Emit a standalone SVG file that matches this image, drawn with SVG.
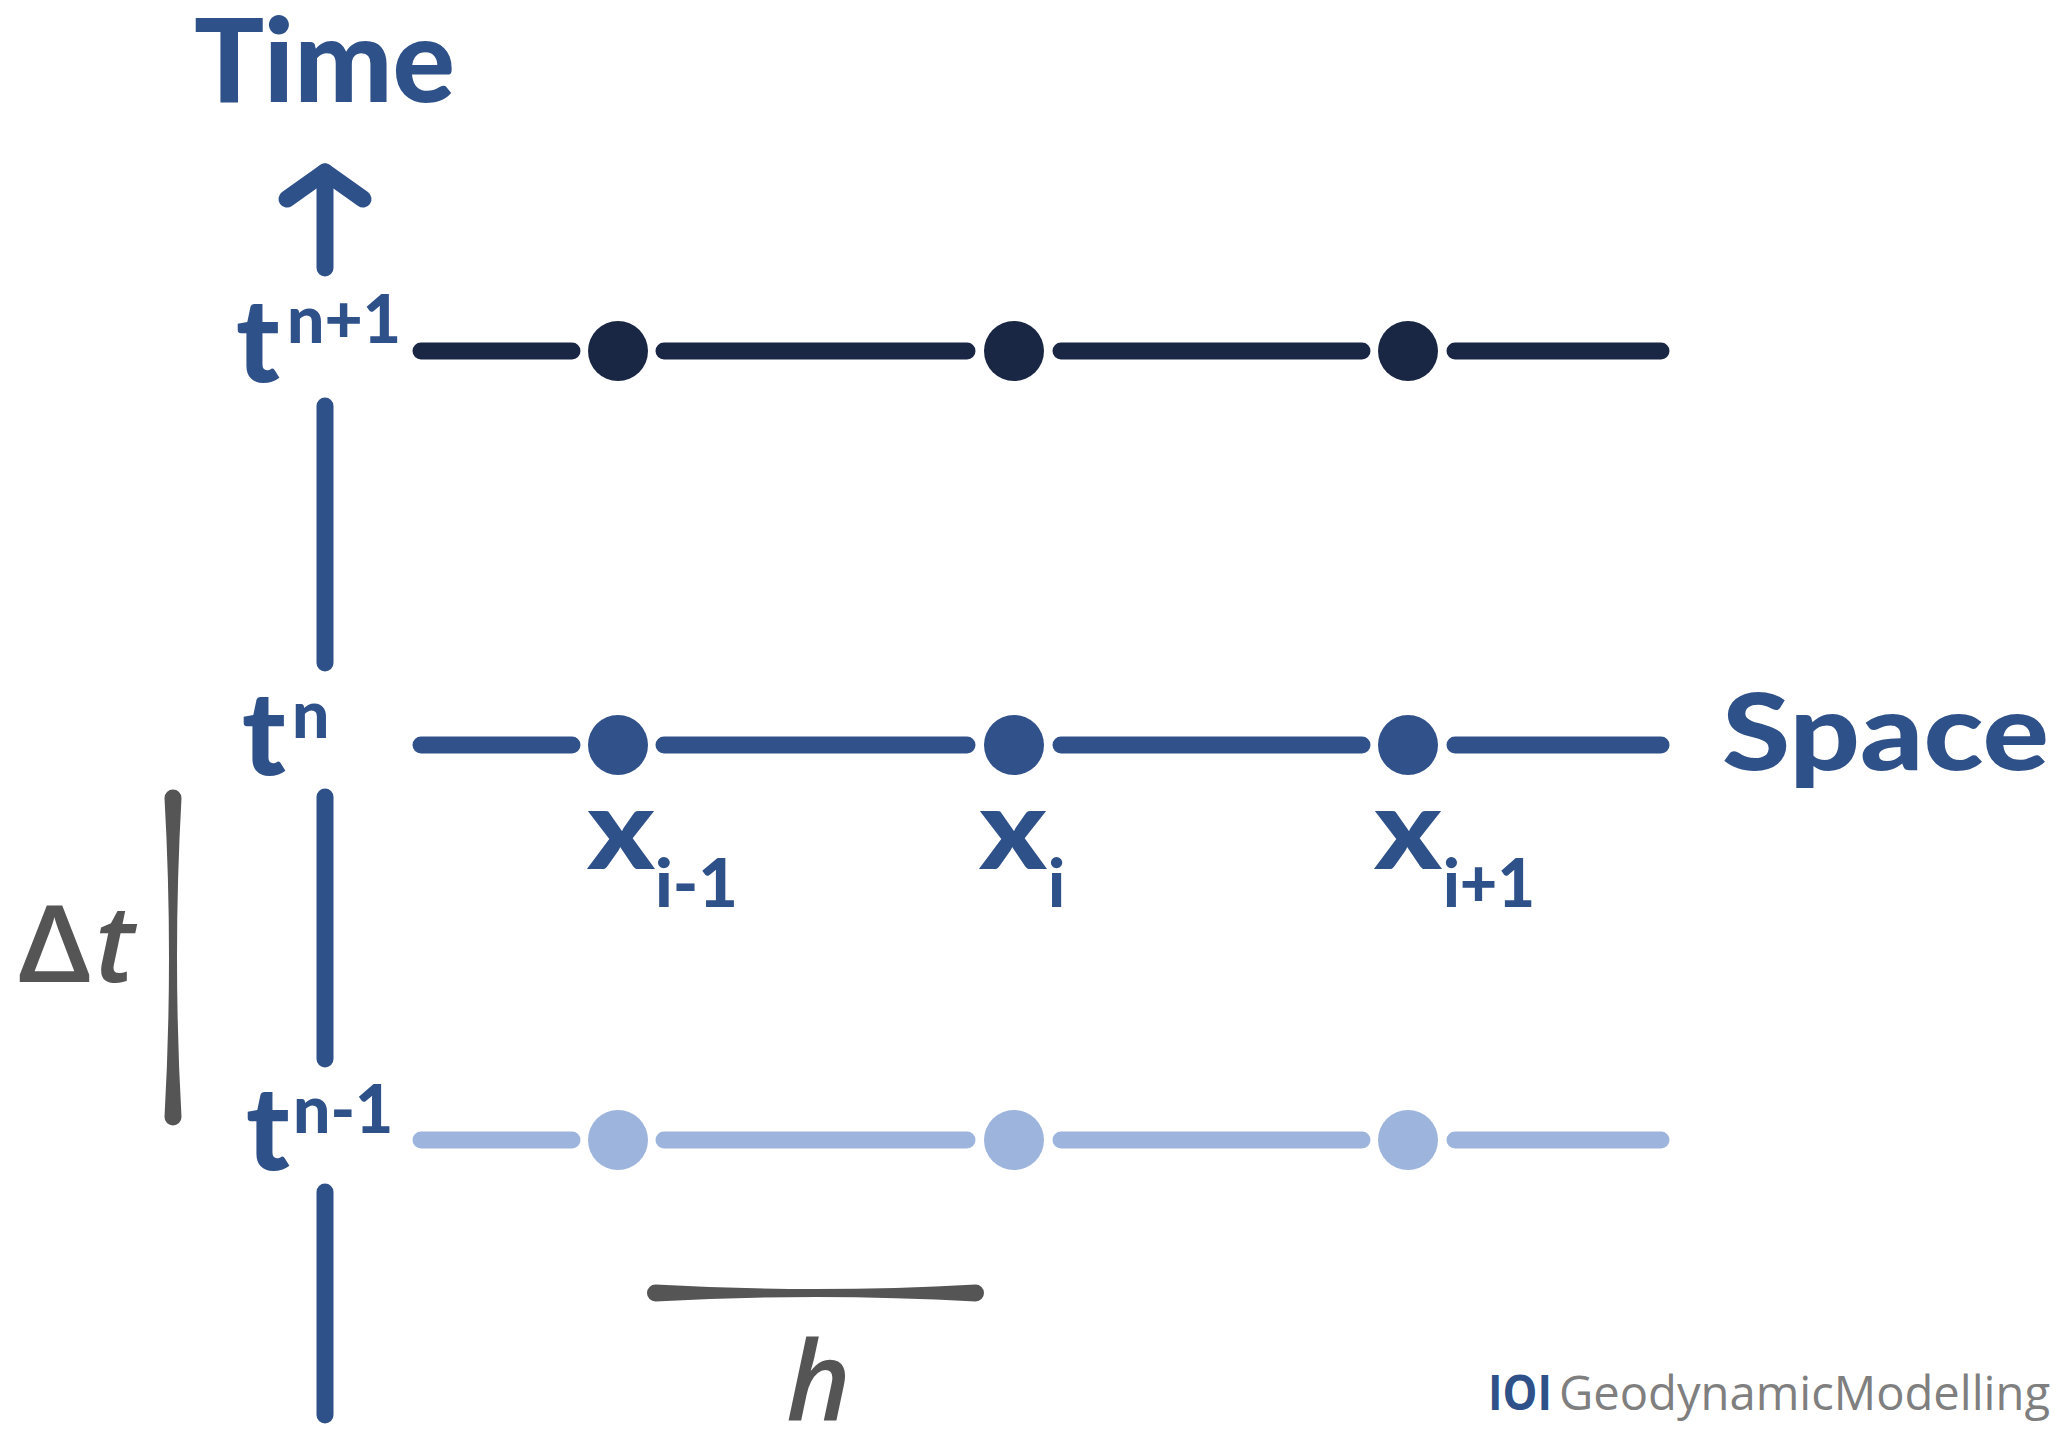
<svg xmlns="http://www.w3.org/2000/svg" width="2067" height="1447" viewBox="0 0 2067 1447">
<style>
.lbl{font-family:Lato,"Liberation Sans",sans-serif;font-weight:900;fill:#2f5189}
.gray{font-family:"Open Sans","Liberation Sans",sans-serif;fill:#555555}
.ax{stroke:#2f5189;stroke-width:17;stroke-linecap:round;fill:none}
.r1{stroke:#1a2744;stroke-width:17;stroke-linecap:round}
.r2{stroke:#30518a;stroke-width:17;stroke-linecap:round}
.r3{stroke:#9db4dc;stroke-width:17;stroke-linecap:round}
</style>
<rect width="2067" height="1447" fill="#ffffff"/>
<g id="axis-time">
  <polyline class="ax" points="287,199 325,172 363,199" stroke-linejoin="round"/>
  <line class="ax" x1="325" y1="172" x2="325" y2="268"/>
  <line class="ax" x1="325" y1="406" x2="325" y2="663"/>
  <line class="ax" x1="325" y1="797" x2="325" y2="1059"/>
  <line class="ax" x1="325" y1="1192" x2="325" y2="1415"/>
  <text class="lbl" x="194" y="102" font-size="116" textLength="261" lengthAdjust="spacingAndGlyphs">Time</text>
</g>
<g id="connectors">
  <line class="r1" x1="421" y1="351" x2="572" y2="351"/>
  <line class="r1" x1="664" y1="351" x2="967" y2="351"/>
  <line class="r1" x1="1061" y1="351" x2="1362" y2="351"/>
  <line class="r1" x1="1455" y1="351" x2="1661" y2="351"/>
  <line class="r2" x1="421" y1="745" x2="572" y2="745"/>
  <line class="r2" x1="664" y1="745" x2="967" y2="745"/>
  <line class="r2" x1="1061" y1="745" x2="1362" y2="745"/>
  <line class="r2" x1="1455" y1="745" x2="1661" y2="745"/>
  <line class="r3" x1="421" y1="1140" x2="572" y2="1140"/>
  <line class="r3" x1="664" y1="1140" x2="967" y2="1140"/>
  <line class="r3" x1="1061" y1="1140" x2="1362" y2="1140"/>
  <line class="r3" x1="1455" y1="1140" x2="1661" y2="1140"/>
</g>
<g id="row-n-plus-1">
  <text class="lbl" x="236" y="382" font-size="116">t</text>
  <text class="lbl" x="287" y="343" font-size="66">n+1</text>
  <circle cx="618" cy="351" r="30" fill="#1a2744"/>
  <circle cx="1014" cy="351" r="30" fill="#1a2744"/>
  <circle cx="1408" cy="351" r="30" fill="#1a2744"/>
</g>
<g id="row-n">
  <text class="lbl" x="242" y="775" font-size="116">t</text>
  <text class="lbl" x="292" y="738" font-size="66">n</text>
  <circle cx="618" cy="745" r="30" fill="#30518a"/>
  <circle cx="1014" cy="745" r="30" fill="#30518a"/>
  <circle cx="1408" cy="745" r="30" fill="#30518a"/>
</g>
<g id="row-n-minus-1">
  <text class="lbl" x="246" y="1170" font-size="116">t</text>
  <text class="lbl" x="293" y="1133" font-size="66">n-1</text>
  <circle cx="618" cy="1140" r="30" fill="#9db4dc"/>
  <circle cx="1014" cy="1140" r="30" fill="#9db4dc"/>
  <circle cx="1408" cy="1140" r="30" fill="#9db4dc"/>
</g>
<g id="space-labels">
  <text class="lbl" x="587" y="869" font-size="112" textLength="68" lengthAdjust="spacingAndGlyphs">x</text>
  <text class="lbl" x="655" y="907" font-size="66" textLength="83" lengthAdjust="spacingAndGlyphs">i-1</text>
  <text class="lbl" x="979" y="869" font-size="112" textLength="68" lengthAdjust="spacingAndGlyphs">x</text>
  <text class="lbl" x="1048" y="907" font-size="66">i</text>
  <text class="lbl" x="1374" y="869" font-size="112" textLength="68" lengthAdjust="spacingAndGlyphs">x</text>
  <text class="lbl" x="1443" y="907" font-size="66" textLength="92" lengthAdjust="spacingAndGlyphs">i+1</text>
  <text class="lbl" x="1722" y="770" font-size="107" textLength="327" lengthAdjust="spacingAndGlyphs">Space</text>
</g>
<g id="delta-t">
  <path d="M164.5,798 A8.5,8.5 0 0 1 181.5,798 Q172.5,957.5 181.5,1117 A8.5,8.5 0 0 1 164.5,1117 Q173.5,957.5 164.5,798 Z" fill="#555555"/>
  <text class="gray" x="17" y="982" font-size="107" font-weight="600" textLength="75" lengthAdjust="spacingAndGlyphs">Δ</text>
  <text class="gray" x="95" y="982" font-size="107" font-weight="600" font-style="italic">t</text>
</g>
<g id="h-spacing">
  <path d="M655.5,1284.5 A8.5,8.5 0 0 0 655.5,1301.5 Q815.5,1292.5 975.5,1301.5 A8.5,8.5 0 0 0 975.5,1284.5 Q815.5,1293.5 655.5,1284.5 Z" fill="#555555"/>
  <text class="gray" x="786" y="1421" font-size="110" font-weight="600" font-style="italic">h</text>
</g>
<g id="logo">
  <text x="1488" y="1410" font-family="'Open Sans','Liberation Sans',sans-serif" font-size="48" font-weight="700" fill="#2f5189" textLength="64" lengthAdjust="spacingAndGlyphs">IOI</text>
  <text x="1559" y="1410" font-family="'Open Sans','Liberation Sans',sans-serif" font-size="48" fill="#7f7f7f" textLength="491" lengthAdjust="spacingAndGlyphs">GeodynamicModelling</text>
</g>
</svg>
